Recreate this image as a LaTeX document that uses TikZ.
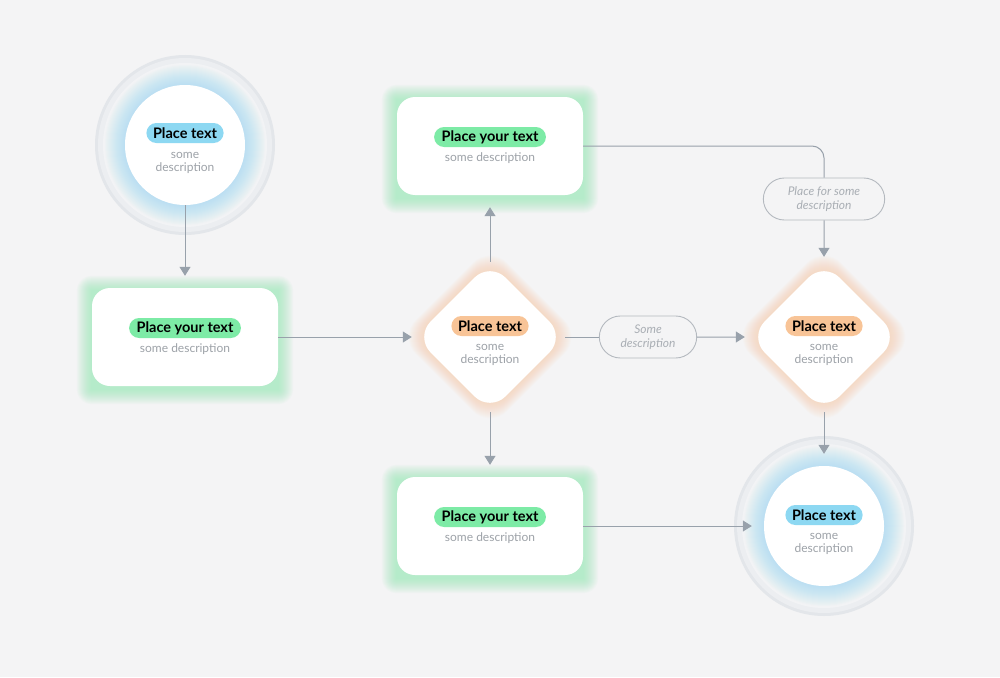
\documentclass[tikz,border=0pt]{standalone}
\usepackage{fontspec}
\setmainfont{Lato}
\usetikzlibrary{arrows.meta,shapes.geometric,shapes.misc,backgrounds,positioning}

\definecolor{bg}{HTML}{F4F4F5}
\definecolor{linegray}{HTML}{98A1AB}
\definecolor{descgray}{HTML}{9DA2A8}
\definecolor{pillgray}{HTML}{B4B9BF}
\definecolor{pilltext}{HTML}{A9AEB4}
\definecolor{tagblue}{HTML}{8DD8F2}
\definecolor{taggreen}{HTML}{7DEBA6}
\definecolor{tagorange}{HTML}{F8C497}
\definecolor{ringedge}{HTML}{E3E6EA}
\definecolor{ringgray}{HTML}{ECEEF1}

\begin{document}
\begin{tikzpicture}[x=1pt, y=-1pt]
	\tikzstyle{box} = [fill=white, rounded corners=18pt, minimum width=186pt, minimum height=98pt, inner sep=0pt]
	\tikzstyle{decision} = [diamond, fill=white, rounded corners=22pt, minimum width=150pt, minimum height=150pt, inner sep=0pt]
	\tikzstyle{ball} = [circle, fill=white, minimum size=120pt, inner sep=0pt]
	\tikzstyle{tag} = [rounded rectangle, minimum height=20pt, inner xsep=5pt, inner ysep=0pt, text=black, font={\bfseries\fontsize{14.5}{15}\selectfont}]
	\tikzstyle{desc} = [text=descgray, align=center, font={\fontsize{12}{13.5}\selectfont}]
	\tikzstyle{pill} = [rounded rectangle, draw=pillgray, line width=0.9pt, fill=bg, minimum height=42pt, text=pilltext, align=center, font={\itshape\fontsize{12}{13.5}\selectfont}]
	\tikzstyle{link} = [draw=linegray, line width=1pt]
	\tikzstyle{flow} = [link, -{Triangle[length=9pt,width=11pt]}, shorten >=12pt]

	\useasboundingbox (0,0) rectangle (1000,677);

	% shapes
	\node[ball] (start) at (185,145) {};
	\node[box] (entry) at (185,337) {};
	\node[box] (upper) at (490,146) {};
	\node[decision] (check) at (490,337) {};
	\node[box] (lower) at (490,526) {};
	\node[decision] (merge) at (824,337) {};
	\node[ball] (finish) at (824,526) {};
	\node[pill, minimum width=104pt] (note) at (648,337) {Some\\description};
	\node[pill, minimum width=128pt] (hint) at (824,199) {Place for some\\description};

	% texts
	\node[tag, fill=tagblue] (startTag) at ([yshift=12pt]start.center) {Place text};
	\node[desc] (startDesc) at ([yshift=-18pt]start.center) {some\\description};
	\node[tag, fill=taggreen] (entryTag) at ([yshift=9pt]entry.center) {Place your text};
	\node[desc] (entryDesc) at ([yshift=-12pt]entry.center) {some description};
	\node[tag, fill=taggreen] (upperTag) at ([yshift=9pt]upper.center) {Place your text};
	\node[desc] (upperDesc) at ([yshift=-12pt]upper.center) {some description};
	\node[tag, fill=tagorange] (checkTag) at ([yshift=11pt]check.center) {Place text};
	\node[desc] (checkDesc) at ([yshift=-18pt]check.center) {some\\description};
	\node[tag, fill=taggreen] (lowerTag) at ([yshift=9pt]lower.center) {Place your text};
	\node[desc] (lowerDesc) at ([yshift=-12pt]lower.center) {some description};
	\node[tag, fill=tagorange] (mergeTag) at ([yshift=11pt]merge.center) {Place text};
	\node[desc] (mergeDesc) at ([yshift=-18pt]merge.center) {some\\description};
	\node[tag, fill=tagblue] (finishTag) at ([yshift=11pt]finish.center) {Place text};
	\node[desc] (finishDesc) at ([yshift=-18pt]finish.center) {some\\description};

	% connectors
	\draw[flow] (start) -- (entry);
	\draw[flow, shorten >=3pt] (entry) -- (check);
	\draw[flow] (check) -- (upper);
	\draw[flow] (check) -- (lower);
	\draw[link] (check) -- (note);
	\draw[flow, shorten >=4pt] (note) -- (merge);
	\draw[link, rounded corners=12pt] (upper.east) -| (hint.north);
	\draw[flow, shorten >=5pt] (hint) -- (merge);
	\draw[flow] (merge) -- (finish);
	\draw[flow] (lower) -- (finish);

	% glows and rings
	\begin{scope}[on background layer]
		\fill[bg] (0,0) rectangle (1000,677);
		\foreach \c in {start,finish} {
			\fill[ringedge] (\c) circle[radius=90pt];
			\fill[ringgray] (\c) circle[radius=87pt];
			\fill[white, opacity=0.35] (\c) circle[radius=82pt];
			\foreach \g in {1,...,20}
				\fill[tagblue, opacity=0.03] (\c) circle[radius=60pt+\g pt];
		}
		\foreach \n in {entry,upper,lower}
			\foreach \g [evaluate=\g as \r using 18+\g] in {1,...,15}
				\fill[taggreen, opacity=0.045, rounded corners=\r pt] ([shift={(-\g pt,-\g pt-3pt)}]\n.south west) rectangle ([shift={(\g pt,\g pt-3pt)}]\n.north east);
		\foreach \n in {check,merge}
			\foreach \g [evaluate=\g as \d using 1.41*\g] in {1,...,16}
				\fill[tagorange, opacity=0.035, rounded corners=24pt, yshift=-3pt] ([yshift=\d pt]\n.north) -- ([xshift=\d pt]\n.east) -- ([yshift=-\d pt]\n.south) -- ([xshift=-\d pt]\n.west) -- cycle;
	\end{scope}
\end{tikzpicture}
\end{document}
